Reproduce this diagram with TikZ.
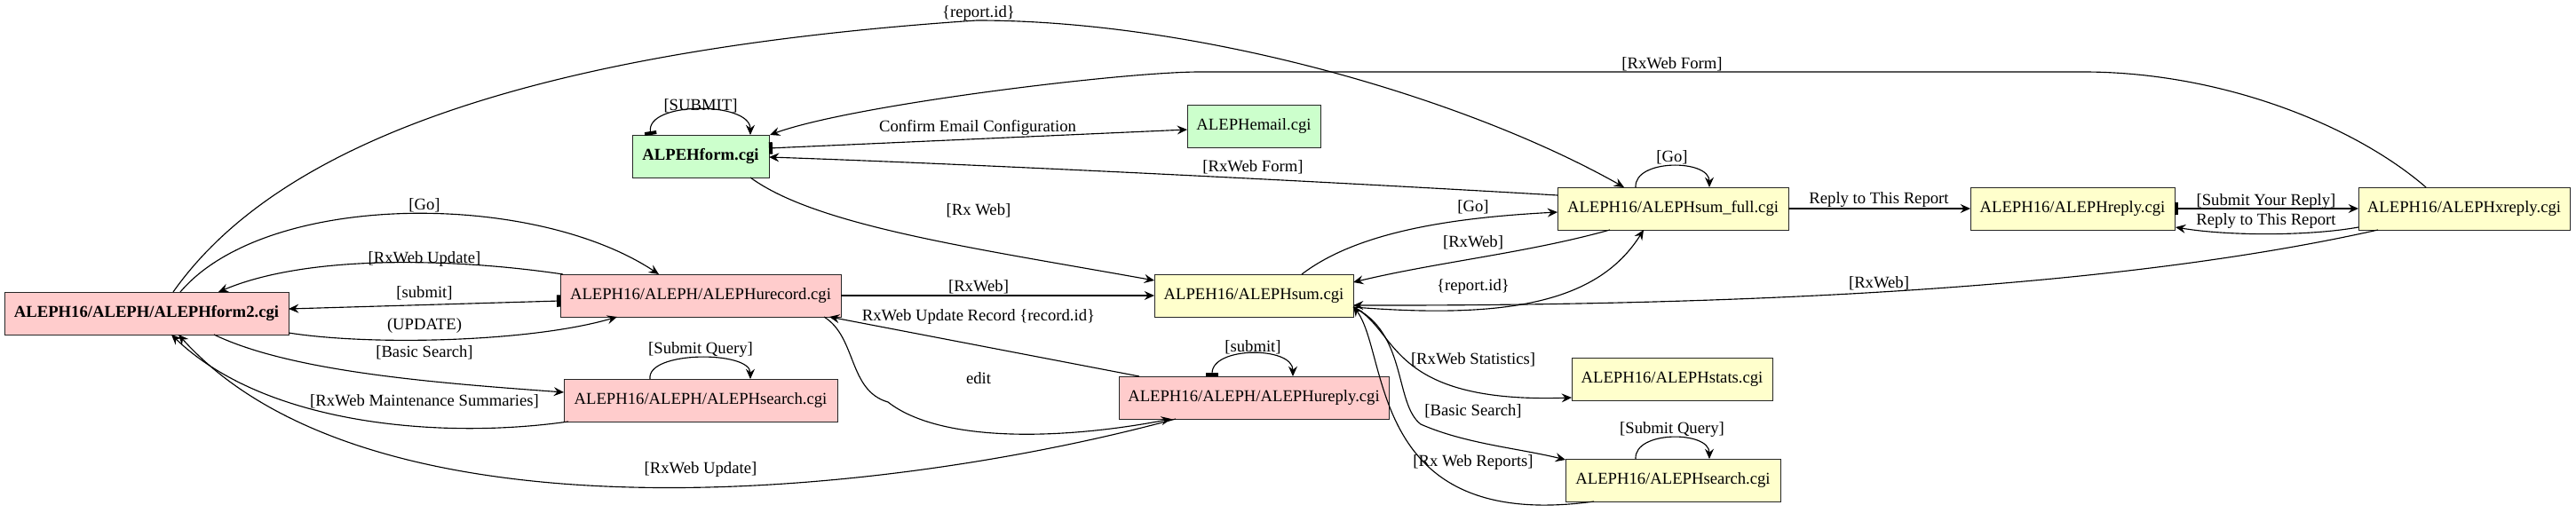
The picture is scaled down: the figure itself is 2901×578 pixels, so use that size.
\documentclass[tikz,border=0pt]{standalone}
\usepackage{fontspec}
\setmainfont{Liberation Serif}
\usetikzlibrary{arrows.meta,calc}
\definecolor{pinkf}{RGB}{255,204,204}
\definecolor{greenf}{RGB}{204,255,204}
\definecolor{yellowf}{RGB}{255,255,204}
\begin{document}
\begin{tikzpicture}[x=0.75pt,y=-0.75pt,
  >={Stealth[length=8.5pt,width=7.5pt,inset=3pt]},
  box/.style={draw=black!85, line width=0.75pt, minimum height=36pt, inner xsep=2pt, inner ysep=0pt, font=\fontsize{14}{16}\selectfont},
  boldbox/.style={box, font=\fontsize{14}{16}\selectfont\bfseries},
  pinkbox/.style={box, fill=pinkf},
  yelbox/.style={box, fill=yellowf},
  lbl/.style={inner sep=0pt, font=\fontsize{14}{16}\selectfont},
  edge/.style={draw, line width=0.85pt, ->},
  tailed/.style={draw, line width=0.85pt, {Rectangle[length=3pt,width=10pt]}->}]
\useasboundingbox (0,0) rectangle (2901,578);

% nodes
\node[boldbox, fill=pinkf, minimum width=240pt] (form2) at (165,353) {ALEPH16/ALEPH/ALEPHform2.cgi};
\node[boldbox, fill=greenf, minimum width=115.5pt] (alform) at (789,176) {ALPEHform.cgi};
\node[box, fill=greenf, minimum width=112.5pt] (email) at (1412,142) {ALEPHemail.cgi};
\node[pinkbox, minimum width=237pt] (urec) at (789,333) {ALEPH16/ALEPH/ALEPHurecord.cgi};
\node[pinkbox, minimum width=231pt] (srch) at (789,451) {ALEPH16/ALEPH/ALEPHsearch.cgi};
\node[yelbox, minimum width=168pt] (sum) at (1412,333) {ALPEH16/ALEPHsum.cgi};
\node[pinkbox, minimum width=228pt] (urep) at (1412,448) {ALEPH16/ALEPH/ALEPHureply.cgi};
\node[yelbox, minimum width=195pt] (sumfull) at (1884,235) {ALEPH16/ALEPHsum\_full.cgi};
\node[yelbox, minimum width=169.5pt] (stats) at (1883,427) {ALEPH16/ALEPHstats.cgi};
\node[yelbox, minimum width=181.5pt] (srch2) at (1884,541) {ALEPH16/ALEPHsearch.cgi};
\node[yelbox, minimum width=172.5pt] (reply) at (2334,235) {ALEPH16/ALEPHreply.cgi};
\node[yelbox, minimum width=178.5pt] (xreply) at (2775,235) {ALEPH16/ALEPHxreply.cgi};

% edges
% form2 -> sumfull {report.id}
\draw[edge] ($(form2)+(30,-24)$) .. controls (300,180) and (550,60) .. (1100,23)
  .. controls (1350,23) and (1650,110) .. ($(sumfull)+(-55,-24)$);
% form2 -> urec [Go]
\draw[edge] ($(form2)+(38,-24)$) .. controls (300,215) and (600,215) .. ($(urec)+(-47,-24)$);
% urec -> form2 [RxWeb Update]
\draw[edge] ($(urec)+(-155,-24)$) .. controls (520,292) and (350,285) .. ($(form2)+(81,-24)$);
% urec -> form2 [submit]
\draw[tailed] ($(urec)+(-158,6)$) -- ($(form2)+(160,-5)$);
% form2 -> urec (UPDATE)
\draw[edge] ($(form2)+(160,22)$) .. controls (420,390) and (600,385) .. ($(urec)+(-94,24)$);
% form2 -> srch [Basic Search]
\draw[edge] ($(form2)+(76,24)$) .. controls (330,420) and (500,432) .. ($(srch)+(-154,-9)$);
% srch -> form2 [RxWeb Maintenance Summaries]
\draw[edge] ($(srch)+(-149,24)$) .. controls (500,495) and (300,480) .. ($(form2)+(28,24)$);
% urep -> form2 [RxWeb Update]
\draw[edge] ($(urep)+(-88,24)$) .. controls (1000,560) and (420,620) .. ($(form2)+(36,24)$);
% urec -> urep edit
\draw[edge] ($(urec)+(139,24)$) .. controls (965,380) and (955,440) .. (1000,453)
  .. controls (1060,500) and (1200,495) .. ($(urep)+(-93,24)$);
% urec -> sum [RxWeb]
\draw[edge] ($(urec)+(158,0)$) -- ($(sum)+(-112,0)$);
% urep -> urec RxWeb Update Record
\draw[edge] ($(urep)+(-129,-24)$) -- ($(urec)+(145,24)$);
% urep loop [submit]
\draw[tailed] ($(urep)+(-47,-24)$) .. controls +(0,-34) and +(0,-34) .. ($(urep)+(44,-24)$);
% alform -> email
\draw[tailed] ($(alform)+(77,-9)$) -- ($(email)+(-75,4)$);
% sumfull -> alform [RxWeb Form]
\draw[edge] ($(sumfull)+(-130,-15)$) .. controls (1500,205) and (1100,185) .. ($(alform)+(77,1)$);
% xreply -> alform [RxWeb Form] top
\draw[edge] ($(xreply)+(-43,-24)$) .. controls (2650,140) and (2500,81) .. (2346,81)
  -- (1351,81) .. controls (1265,81) and (960,118) .. ($(alform)+(78,-24)$);
% alform loop [SUBMIT]
\draw[tailed] ($(alform)+(-56,-24)$) .. controls +(-6,-38) and +(0,-38) .. ($(alform)+(56,-24)$);
% alform -> sum [Rx Web]
\draw[edge] ($(alform)+(56,24)$) .. controls (920,255) and (1100,280) .. ($(sum)+(-112,-17)$);
% sum -> sumfull [Go]
\draw[edge] ($(sum)+(54,-24)$) .. controls (1530,260) and (1640,245) .. ($(sumfull)+(-130,4)$);
% sumfull -> sum [RxWeb]
\draw[edge] ($(sumfull)+(-71,24)$) .. controls (1720,285) and (1620,295) .. ($(sum)+(112,-15)$);
% sum -> sumfull {report.id}
\draw[edge] ($(sum)+(112,13)$) .. controls (1700,360) and (1800,340) .. ($(sumfull)+(-33,24)$);
% xreply -> sum [RxWeb]
\draw[edge] ($(xreply)+(-97,24)$) .. controls (2450,310) and (2100,345) .. ($(sum)+(112,11)$);
% sum -> stats [RxWeb Statistics]
\draw[edge] ($(sum)+(112,13)$) .. controls (1575,370) and (1560,455) .. ($(stats)+(-113,21)$);
% sum -> srch2 [Basic Search]
\draw[edge] ($(sum)+(112,13)$) .. controls (1585,375) and (1570,455) .. (1600,478)
  .. controls (1650,500) and (1710,505) .. ($(srch2)+(-121,-23)$);
% srch2 -> sum [Rx Web Reports]
\draw[edge] ($(srch2)+(-89,24)$) .. controls (1540,600) and (1565,400) .. ($(sum)+(112,12)$);
% loops
\draw[edge] ($(srch2)+(-42,-24)$) .. controls +(-2,-32) and +(0,-32) .. ($(srch2)+(41,-24)$);
\draw[edge] ($(sumfull)+(-42,-24)$) .. controls +(-2,-32) and +(0,-32) .. ($(sumfull)+(41,-24)$);
\draw[edge] ($(srch)+(-57,-24)$) .. controls +(-4,-32) and +(0,-32) .. ($(srch)+(56,-24)$);
% sumfull -> reply
\draw[edge] ($(sumfull)+(130,0)$) -- ($(reply)+(-115,0)$);
% reply -> xreply
\draw[tailed] ($(reply)+(115,0)$) -- ($(xreply)+(-119,0)$);
% xreply -> reply
\draw[edge] ($(xreply)+(-119,21)$) .. controls (2600,266) and (2510,266) .. ($(reply)+(116,21)$);

% labels
\node[lbl] (l1) at (1102,15) {\{report.id\}};
\node[lbl] (l2) at (1883,72) {[RxWeb Form]};
\node[lbl] (l3) at (789,119) {[SUBMIT]};
\node[lbl] (l4) at (1101,144) {Confirm Email Configuration};
\node[lbl] (l5) at (1411,188) {[RxWeb Form]};
\node[lbl] (l6) at (478,231) {[Go]};
\node[lbl] (l7) at (1102,237) {[Rx Web]};
\node[lbl] (l8) at (1659,233) {[Go]};
\node[lbl] (l9) at (1883,177) {[Go]};
\node[lbl] (l10) at (2116,225) {Reply to This Report};
\node[lbl] (l11) at (2552,227) {[Submit Your Reply]};
\node[lbl] (l12) at (2552,249) {Reply to This Report};
\node[lbl] (l13) at (1659,273) {[RxWeb]};
\node[lbl] (l14) at (478,292) {[RxWeb Update]};
\node[lbl] (l15) at (478,330) {[submit]};
\node[lbl] (l16) at (1102,323) {[RxWeb]};
\node[lbl] (l17) at (1659,323) {\{report.id\}};
\node[lbl] (l18) at (2116,319) {[RxWeb]};
\node[lbl] (l19) at (1102,357) {RxWeb Update Record \{record.id\}};
\node[lbl] (l20) at (478,367) {(UPDATE)};
\node[lbl] (l21) at (478,397) {[Basic Search]};
\node[lbl] (l22) at (789,394) {[Submit Query]};
\node[lbl] (l23) at (1411,391) {[submit]};
\node[lbl] (l24) at (1659,405) {[RxWeb Statistics]};
\node[lbl] (l25) at (1102,426) {edit};
\node[lbl] (l26) at (478,452) {[RxWeb Maintenance Summaries]};
\node[lbl] (l27) at (1659,463) {[Basic Search]};
\node[lbl] (l28) at (1883,484) {[Submit Query]};
\node[lbl] (l29) at (1659,521) {[Rx Web Reports]};
\node[lbl] (l30) at (789,529) {[RxWeb Update]};
\end{tikzpicture}
\end{document}
